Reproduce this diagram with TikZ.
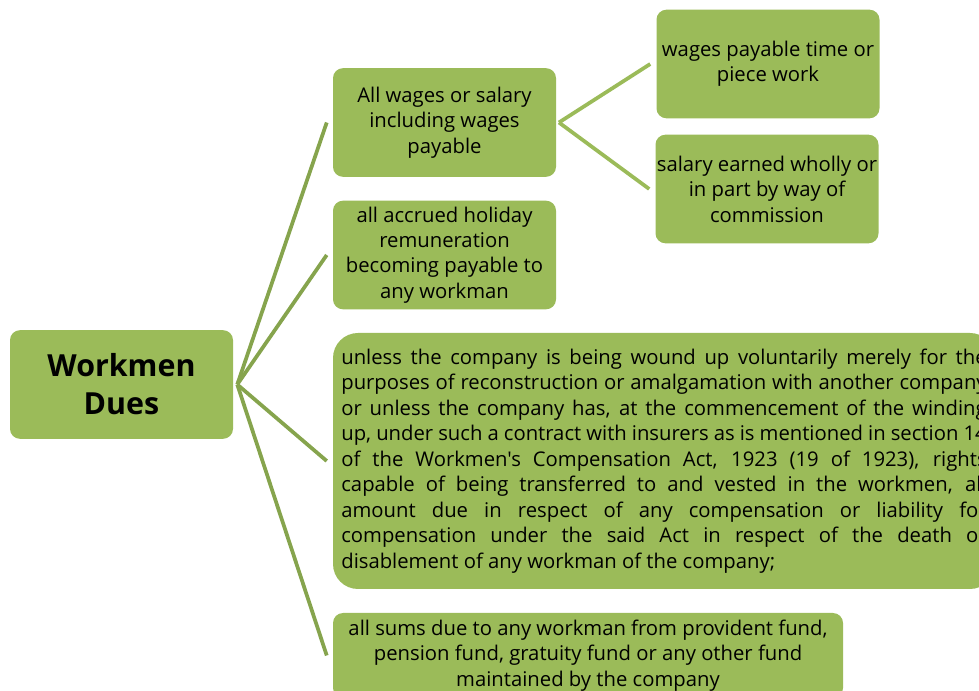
\documentclass[tikz,border=0pt]{standalone}
\usepackage{fontspec}
\setmainfont{Open Sans}[Ligatures=TeXOff]
\usetikzlibrary{positioning,calc}

\definecolor{leaf}{HTML}{9BBB59}
\definecolor{stem}{HTML}{86A44D}

\begin{document}
\begin{tikzpicture}[x=0.75pt,y=-0.75pt,
  every node/.style={fill=leaf,inner sep=0pt,text=black},
  box/.style={rounded corners=7.5pt,minimum width=167.25pt,minimum height=81.5pt,
    align=center,font=\fontsize{15.2}{19.1}\selectfont},
  link/.style={draw=stem,line width=2.8pt},
  sublink/.style={draw=leaf,line width=2.8pt}]
  \useasboundingbox (0,0) rectangle (979,691);
  \clip (0,0) rectangle (979,691);
  % root and the children of the first level
  \path (121.5,384.5) node[box,font=\fontsize{22.8}{28.5}\selectfont\bfseries] (root) {Workmen\\Dues}
  (444.5,122.5) node[box] (wages) {All wages or salary\\including wages\\payable}
  (444.5,255) node[box] (holiday) {all accrued holiday\\remuneration\\becoming payable to\\any workman}
  (664,461) node[box,rounded corners=18.75pt,minimum width=496.5pt,minimum height=192pt,
    text width=484pt,align=justify] (comp) {unless the company is being wound up voluntarily merely for the\linebreak
    purposes of reconstruction or amalgamation with another company\linebreak
    or unless the company has, at the commencement of the winding\linebreak
    up, under such a contract with insurers as is mentioned in section 14\linebreak
    of the Workmen's Compensation Act, 1923 (19 of 1923), rights\linebreak
    capable of being transferred to and vested in the workmen, all\linebreak
    amount due in respect of any compensation or liability for\linebreak
    compensation under the said Act in respect of the death or\linebreak
    disablement of any workman of the company;}
  (588,655.5) node[box,minimum width=382.5pt,minimum height=63.75pt] (funds) {all sums due to any workman from provident fund,\\pension fund, gratuity fund or any other fund\\maintained by the company};
  % second level under the wages box
  \path (768,64) node[box] (piece) {wages payable time or\\piece work}
  (767,189) node[box] (commission) {salary earned wholly or\\in part by way of\\commission};
  % connectors
  \coordinate (hub) at ($(root.east)+(3pt,0)$);
  \coordinate (fork) at ($(wages.east)+(2pt,0)$);
  \foreach \n in {wages,holiday,comp,funds}
    \draw[link] (hub) -- ($(\n.west)+(-4.5pt,0)$);
  \foreach \n in {piece,commission}
    \draw[sublink] (fork) -- ($(\n.west)+(-4.5pt,0)$);
\end{tikzpicture}
\end{document}
